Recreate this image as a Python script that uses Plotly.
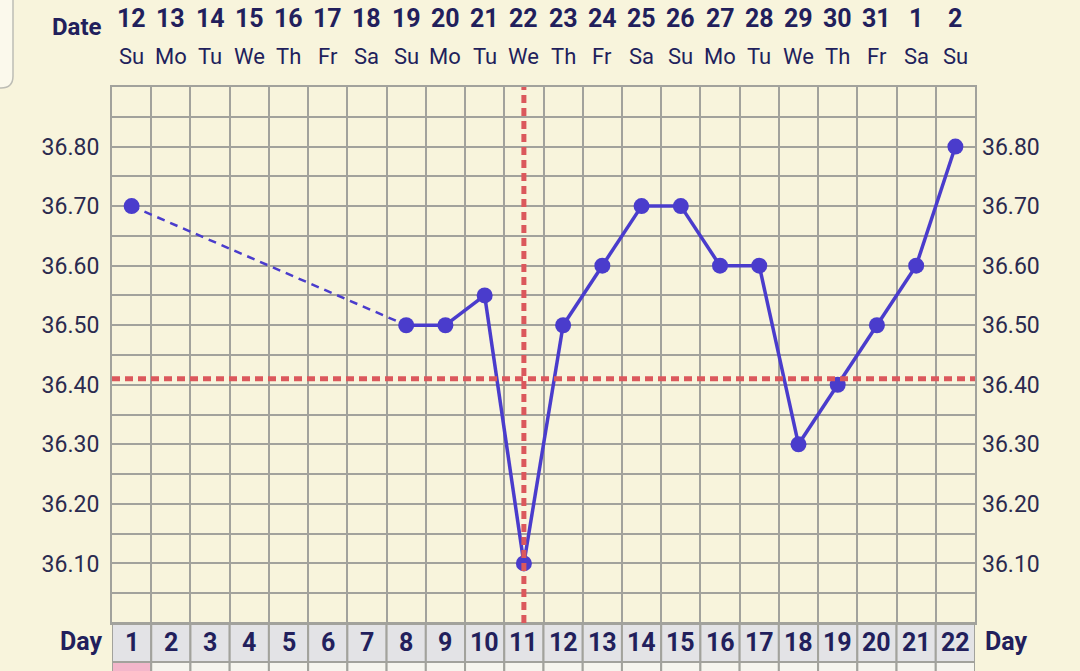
import plotly.graph_objects as go

# ---------------- data ----------------
days = list(range(1, 23))
dates = ["12", "13", "14", "15", "16", "17", "18", "19", "20", "21", "22",
         "23", "24", "25", "26", "27", "28", "29", "30", "31", "1", "2"]
weekdays = ["Su", "Mo", "Tu", "We", "Th", "Fr", "Sa"] * 3 + ["Su"]
temp_days = [1, 8, 9, 10, 11, 12, 13, 14, 15, 16, 17, 18, 19, 20, 21, 22]
temps = [36.70, 36.50, 36.50, 36.55, 36.10, 36.50, 36.60, 36.70, 36.70,
         36.60, 36.60, 36.30, 36.40, 36.50, 36.60, 36.80]
coverline = 36.41
ovulation_day = 11
ytick_vals = [36.10, 36.20, 36.30, 36.40, 36.50, 36.60, 36.70, 36.80]
ytick_text = ["36.10", "36.20", "36.30", "36.40", "36.50", "36.60", "36.70", "36.80"]
period_days = [1]

# ---------------- styling ----------------
W, H = 1080, 671
L, R, T, B = 112, 975, 87, 623
BG = "#f8f4dc"
GRID = "#a2a29c"
NAVY = "#221f5c"
BLUE = "#4a3ccc"
RED = "#db585c"
FONT = "Roboto"


def px(x):
    return (x - L) / (R - L)


def py(y):
    return (B - y) / (B - T)


fig = go.Figure()

# dashed segments across gaps, solid across consecutive days
for i in range(len(temp_days) - 1):
    d0, d1 = temp_days[i], temp_days[i + 1]
    dashed = (d1 - d0) > 1
    fig.add_trace(go.Scatter(
        x=[d0, d1], y=[temps[i], temps[i + 1]], mode="lines",
        line=dict(color=BLUE, width=2.5 if dashed else 3.5,
                  dash="8px,6px" if dashed else "solid"),
        hoverinfo="skip", showlegend=False))

fig.add_trace(go.Scatter(
    x=temp_days, y=temps, mode="markers",
    marker=dict(size=16, color=BLUE), showlegend=False))

# invisible trace for right axis
fig.add_trace(go.Scatter(x=temp_days, y=temps, yaxis="y2", mode="markers",
                         marker=dict(opacity=0), hoverinfo="skip", showlegend=False))

# y grid every 0.05
grid_vals = [round(36.0 + 0.05 * k, 2) for k in range(19)]
grid_text = [ytick_text[ytick_vals.index(v)] if v in ytick_vals else "" for v in grid_vals]

shapes = []
annotations = []

# coverline and ovulation line on top
shapes.append(dict(type="line", xref="paper", yref="y", x0=0, x1=1, y0=coverline, y1=coverline,
                   line=dict(color=RED, width=5, dash="8px,5px"), layer="above"))
shapes.append(dict(type="line", xref="x", yref="paper", x0=ovulation_day, x1=ovulation_day, y0=0, y1=1,
                   line=dict(color=RED, width=5, dash="8px,5px"), layer="above"))

# Day row cells
for d in days:
    shapes.append(dict(type="rect", xref="x", yref="paper", x0=d - 0.5, x1=d + 0.5,
                       y0=py(662), y1=py(623), fillcolor="#e3e3e6",
                       line=dict(color=GRID, width=2), layer="below"))
    shapes.append(dict(type="rect", xref="x", yref="paper", x0=d - 0.5, x1=d + 0.5,
                       y0=py(690), y1=py(662),
                       fillcolor="#f3b6ca" if d in period_days else "#f6f5ee",
                       line=dict(color=GRID, width=2), layer="below"))
    annotations.append(dict(xref="x", yref="paper", x=d, y=py(642), text=f"<b>{d}</b>",
                            showarrow=False, font=dict(family=FONT, size=25, color=NAVY),
                            xanchor="center", yanchor="middle"))
    annotations.append(dict(xref="x", yref="paper", x=d, y=py(19), text=f"<b>{dates[d - 1]}</b>",
                            showarrow=False, font=dict(family=FONT, size=25, color=NAVY),
                            xanchor="center", yanchor="middle"))
    annotations.append(dict(xref="x", yref="paper", x=d, y=py(57), text=weekdays[d - 1],
                            showarrow=False, font=dict(family=FONT, size=22, color=NAVY),
                            xanchor="center", yanchor="middle"))

annotations.append(dict(xref="paper", yref="paper", x=px(104), y=py(27), text="<b>Date</b>",
                        showarrow=False, font=dict(family=FONT, size=24, color=NAVY),
                        xanchor="right", yanchor="middle"))
annotations.append(dict(xref="paper", yref="paper", x=px(104), y=py(641), text="<b>Day</b>",
                        showarrow=False, font=dict(family=FONT, size=25, color=NAVY),
                        xanchor="right", yanchor="middle"))
annotations.append(dict(xref="paper", yref="paper", x=px(983), y=py(641), text="<b>Day</b>",
                        showarrow=False, font=dict(family=FONT, size=25, color=NAVY),
                        xanchor="left", yanchor="middle"))

# top-left card corner
path = (f"M {px(-5)},{py(-5)} L {px(13)},{py(-5)} L {px(13)},{py(76)} "
        f"Q {px(13)},{py(88)} {px(1)},{py(88)} L {px(-5)},{py(88)}")
shapes.append(dict(type="path", xref="paper", yref="paper", path=path,
                   fillcolor="#fbf9ec", line=dict(color="#bdbdb5", width=1.5), layer="below"))

fig.update_layout(
    width=W, height=H,
    margin=dict(l=L, r=W - R, t=T, b=H - B),
    paper_bgcolor=BG, plot_bgcolor=BG,
    showlegend=False,
    xaxis=dict(range=[0.5, 22.5], tickvals=[d + 0.5 for d in range(0, 23)],
               showticklabels=False, showgrid=True, gridcolor=GRID, gridwidth=2,
               zeroline=False, showline=True, linecolor=GRID, linewidth=2, mirror=True,
               fixedrange=True),
    yaxis=dict(range=[36.0, 36.9], tickvals=grid_vals, ticktext=grid_text,
               showgrid=True, gridcolor=GRID, gridwidth=2, zeroline=False,
               showline=True, linecolor=GRID, linewidth=2, mirror=True,
               ticks="", ticklabelstandoff=6,
               tickfont=dict(family=FONT, size=23, color="#2b2a4f")),
    yaxis2=dict(range=[36.0, 36.9], overlaying="y", side="right",
                tickvals=ytick_vals, ticktext=ytick_text, showgrid=False, zeroline=False,
                ticks="", ticklabelstandoff=6,
                tickfont=dict(family=FONT, size=23, color="#2b2a4f")),
    shapes=shapes, annotations=annotations,
)

fig.write_html("out.html", config={"displayModeBar": False},
               post_script="document.body.style.margin='0px';")
